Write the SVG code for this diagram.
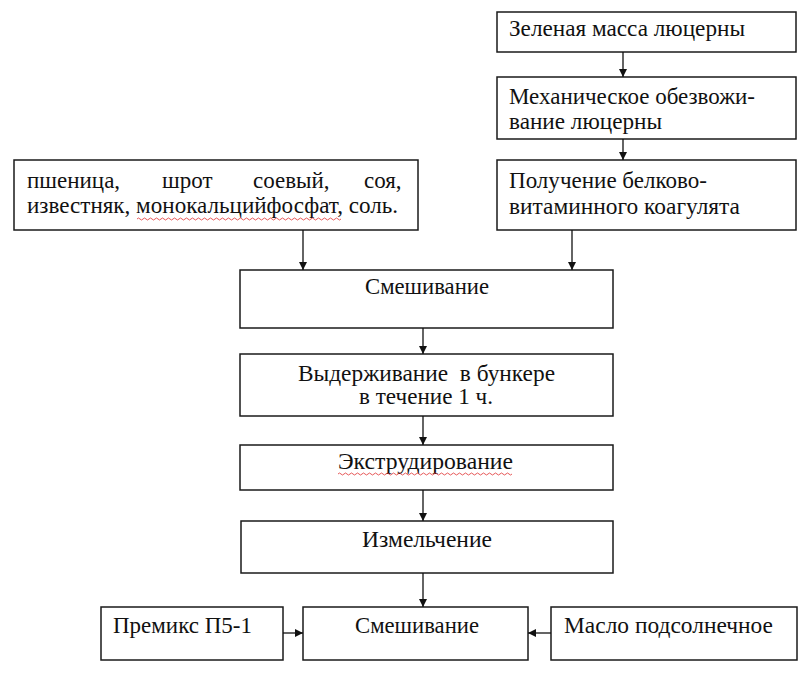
<svg xmlns="http://www.w3.org/2000/svg" width="809" height="682" viewBox="0 0 809 682">
<defs>
<style>
.box{fill:#fff;stroke:#1a1a1a;stroke-width:1.5}
text{font-family:'Liberation Serif','DejaVu Serif',serif;font-size:23px;fill:#111}
.c{text-anchor:middle}
.ln{stroke:#111;stroke-width:1.3;fill:none}
.wave{stroke:#e03030;stroke-width:0.8;fill:none}
</style>
<marker id="ah" markerWidth="8" markerHeight="8" refX="8" refY="4" orient="auto" markerUnits="userSpaceOnUse">
<path d="M0,0 L8,4 L0,8 Z" fill="#111"/>
</marker>
</defs>
<rect width="809" height="682" fill="#fff"/>

<g id="n-zelenaya">
<rect class="box" x="497" y="12" width="299" height="40"/>
<text x="509" y="36" textLength="236" lengthAdjust="spacingAndGlyphs">Зеленая масса люцерны</text>
</g>
<g id="n-mekh">
<rect class="box" x="497" y="77" width="299" height="62"/>
<text x="509" y="104" textLength="246" lengthAdjust="spacingAndGlyphs">Механическое обезвожи-</text>
<text x="509" y="129" textLength="153" lengthAdjust="spacingAndGlyphs">вание люцерны</text>
</g>
<g id="n-poluch">
<rect class="box" x="497" y="160" width="299" height="70"/>
<text x="509" y="188" textLength="198" lengthAdjust="spacingAndGlyphs">Получение белково-</text>
<text x="509" y="214" textLength="231" lengthAdjust="spacingAndGlyphs">витаминного коагулята</text>
</g>
<g id="n-ingr">
<rect class="box" x="14" y="160" width="404" height="70"/>
<text y="188"><tspan x="27">пшеница,</tspan><tspan x="162">шрот</tspan><tspan x="253">соевый,</tspan><tspan x="364">соя,</tspan></text>
<text x="27" y="213" textLength="371" lengthAdjust="spacingAndGlyphs">известняк, монокальцийфосфат, соль.</text>
<path class="wave" d="M137,219 q1.5,-2 3,0 t3,0 t3,0 t3,0 t3,0 t3,0 t3,0 t3,0 t3,0 t3,0 t3,0 t3,0 t3,0 t3,0 t3,0 t3,0 t3,0 t3,0 t3,0 t3,0 t3,0 t3,0 t3,0 t3,0 t3,0 t3,0 t3,0 t3,0 t3,0 t3,0 t3,0 t3,0 t3,0 t3,0 t3,0 t3,0 t3,0 t3,0 t3,0 t3,0 t3,0 t3,0 t3,0 t3,0 t3,0 t3,0 t3,0 t3,0 t3,0 t3,0 t3,0 t3,0 t3,0 t3,0 t3,0 t3,0 t3,0 t3,0 t3,0 t3,0 t3,0 t3,0 t3,0 t3,0 t3,0 t3,0 t3,0 t3,0"/>
</g>
<g id="n-smesh1">
<rect class="box" x="240" y="270" width="373" height="58"/>
<text class="c" x="427" y="294" textLength="124" lengthAdjust="spacingAndGlyphs">Смешивание</text>
</g>
<g id="n-vyderzh">
<rect class="box" x="240" y="354" width="373" height="62"/>
<text class="c" x="426.5" y="381" xml:space="preserve" textLength="257" lengthAdjust="spacingAndGlyphs">Выдерживание  в бункере</text>
<text class="c" x="426" y="404" textLength="134" lengthAdjust="spacingAndGlyphs">в течение 1 ч.</text>
</g>
<g id="n-ekstr">
<rect class="box" x="240" y="445" width="373" height="45"/>
<text class="c" x="425.5" y="469" textLength="175" lengthAdjust="spacingAndGlyphs">Экструдирование</text>
<path class="wave" d="M338,474 q1.5,-2 3,0 t3,0 t3,0 t3,0 t3,0 t3,0 t3,0 t3,0 t3,0 t3,0 t3,0 t3,0 t3,0 t3,0 t3,0 t3,0 t3,0 t3,0 t3,0 t3,0 t3,0 t3,0 t3,0 t3,0 t3,0 t3,0 t3,0 t3,0 t3,0 t3,0 t3,0 t3,0 t3,0 t3,0 t3,0 t3,0 t3,0 t3,0 t3,0 t3,0 t3,0 t3,0 t3,0 t3,0 t3,0 t3,0 t3,0 t3,0 t3,0 t3,0 t3,0 t3,0 t3,0 t3,0 t3,0 t3,0 t3,0 t3,0"/>
</g>
<g id="n-izmel">
<rect class="box" x="241" y="521" width="372" height="52"/>
<text class="c" x="427" y="547" textLength="130" lengthAdjust="spacingAndGlyphs">Измельчение</text>
</g>
<g id="n-premiks">
<rect class="box" x="101" y="607" width="182" height="53"/>
<text x="113" y="633" textLength="139" lengthAdjust="spacingAndGlyphs">Премикс П5-1</text>
</g>
<g id="n-smesh2">
<rect class="box" x="303" y="607" width="225" height="53"/>
<text class="c" x="417" y="633" textLength="124" lengthAdjust="spacingAndGlyphs">Смешивание</text>
</g>
<g id="n-maslo">
<rect class="box" x="551" y="607" width="246" height="53"/>
<text x="564" y="633" textLength="209" lengthAdjust="spacingAndGlyphs">Масло подсолнечное</text>
</g>

<g id="connectors">
<line class="ln" x1="623" y1="52" x2="623" y2="77" marker-end="url(#ah)"/>
<line class="ln" x1="623" y1="139" x2="623" y2="160" marker-end="url(#ah)"/>
<line class="ln" x1="572" y1="230" x2="572" y2="270" marker-end="url(#ah)"/>
<line class="ln" x1="303" y1="230" x2="303" y2="270" marker-end="url(#ah)"/>
<line class="ln" x1="423" y1="328" x2="423" y2="354" marker-end="url(#ah)"/>
<line class="ln" x1="423" y1="416" x2="423" y2="445" marker-end="url(#ah)"/>
<line class="ln" x1="423" y1="490" x2="423" y2="521" marker-end="url(#ah)"/>
<line class="ln" x1="423" y1="573" x2="423" y2="607" marker-end="url(#ah)"/>
<line class="ln" x1="283" y1="633" x2="303" y2="633" marker-end="url(#ah)"/>
<line class="ln" x1="551" y1="633" x2="528" y2="633" marker-end="url(#ah)"/>
</g>
</svg>
